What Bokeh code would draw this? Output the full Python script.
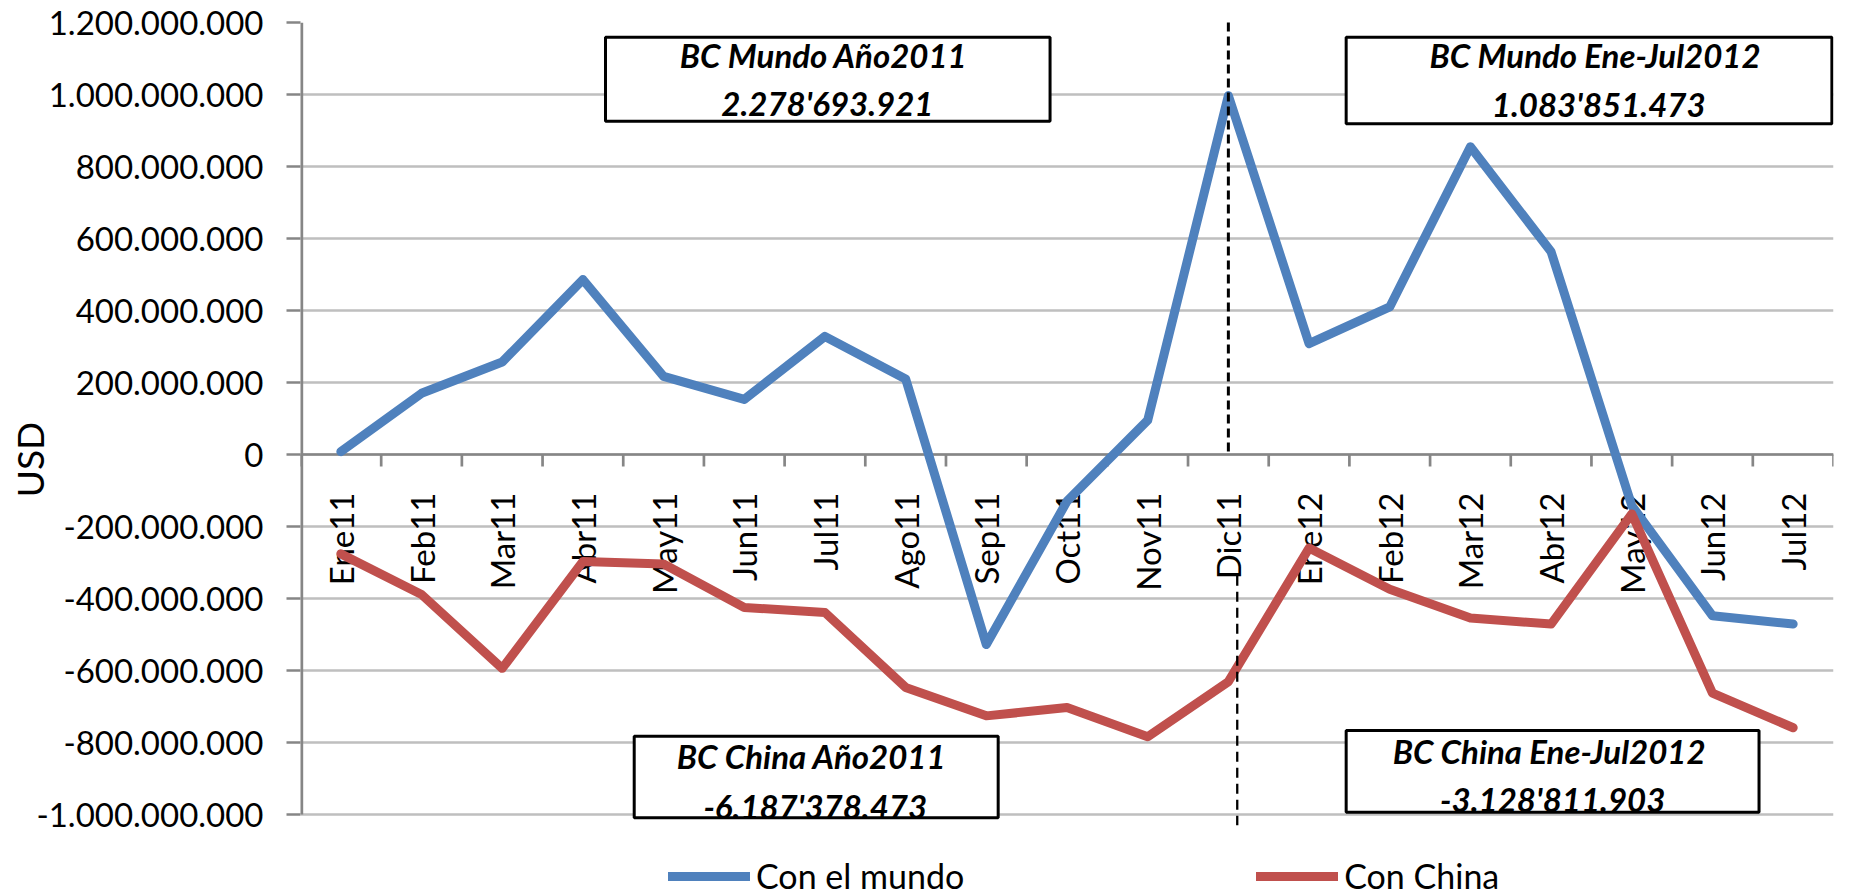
import math
from bokeh.plotting import figure
from bokeh.models import (FactorRange, Range1d, FixedTicker, Legend, LegendItem,
                          Label, BoxAnnotation)
from bokeh.embed import file_html
from bokeh.resources import INLINE

# ---------------- data ----------------
months = ["Ene11", "Feb11", "Mar11", "Abr11", "May11", "Jun11", "Jul11", "Ago11",
          "Sep11", "Oct11", "Nov11", "Dic11", "Ene12", "Feb12", "Mar12", "Abr12",
          "May12", "Jun12", "Jul12"]
con_el_mundo = [8e6, 170e6, 257e6, 486e6, 217e6, 153e6, 328e6, 210e6, -528e6,
                -130e6, 95e6, 997e6, 308e6, 410e6, 855e6, 563e6, -142e6, -448e6,
                -471e6]
con_china = [-276e6, -389e6, -594e6, -297e6, -304e6, -425e6, -439e6, -647e6,
             -726e6, -703e6, -784e6, -631e6, -260e6, -374e6, -454e6, -471e6,
             -165e6, -663e6, -759e6]
series_names = ["Con el mundo", "Con China"]
y_ticks = [1200000000, 1000000000, 800000000, 600000000, 400000000, 200000000, 0,
           -200000000, -400000000, -600000000, -800000000, -1000000000]
y_tick_labels = ["1.200.000.000", "1.000.000.000", "800.000.000", "600.000.000",
                 "400.000.000", "200.000.000", "0", "-200.000.000", "-400.000.000",
                 "-600.000.000", "-800.000.000", "-1.000.000.000"]
y_axis_title = "USD"
box_titles = ["BC Mundo  Año2011", "BC Mundo  Ene-Jul2012",
              "BC China  Año2011", "BC China  Ene-Jul2012"]
box_values = ["2.278'693.921", "1.083'851.473", "-6.187'378.473", "-3.128'811.903"]

# ---------------- styling / layout ----------------
FONT = "Lato"
BLUE = "#4F81BD"
RED = "#C0504D"
AXIS = "#868686"
GRID = "#BFBFBF"

Y_MIN, Y_MAX = y_ticks[-1], y_ticks[0]
PX_PER_UNIT = 792 / (Y_MAX - Y_MIN)        # plotting area of the axis: 792 px tall
EXTRA_BOTTOM = 82 / PX_PER_UNIT            # room below the axis for legend / boxes

p = figure(x_range=FactorRange(factors=months, range_padding=0),
           y_range=Range1d(Y_MIN - EXTRA_BOTTOM, Y_MAX),
           frame_width=1533, frame_height=874,
           min_border_left=300, min_border_right=27,
           min_border_top=22, min_border_bottom=0,
           output_backend="svg", toolbar_location=None,
           background_fill_color="white", border_fill_color="white",
           outline_line_color=None)

# x axis crossing at zero
xa = p.xaxis[0]
xa.fixed_location = 0
xa.major_label_orientation = math.pi / 2
xa.major_tick_line_color = None
xa.major_tick_in = 0
xa.major_tick_out = 0
xa.minor_tick_line_color = None
xa.major_label_standoff = 38
xa.axis_line_color = AXIS
xa.axis_line_width = 2.7
xa.major_label_text_font = FONT
xa.major_label_text_font_size = "33px"
xa.major_label_text_color = "black"

# y axis
ya = p.yaxis[0]
ya.ticker = FixedTicker(ticks=y_ticks)
ya.major_label_overrides = {t: s for t, s in zip(y_ticks, y_tick_labels)}
ya.major_tick_out = 14
ya.major_tick_in = 0
ya.major_tick_line_color = AXIS
ya.major_tick_line_width = 2.7
ya.minor_tick_line_color = None
ya.axis_line_color = None
ya.major_label_standoff = 23
ya.major_label_text_font = FONT
ya.major_label_text_font_size = "33px"
ya.major_label_text_color = "black"
ya.axis_label = y_axis_title
ya.axis_label_text_font = FONT
ya.axis_label_text_font_size = "37px"
ya.axis_label_text_font_style = "normal"
ya.axis_label_text_color = "black"
ya.axis_label_standoff = -19

p.xgrid.visible = False
p.ygrid.ticker = FixedTicker(ticks=y_ticks)
p.ygrid.grid_line_color = GRID
p.ygrid.grid_line_width = 2.5

# vertical axis line only over the value span
p.segment(x0=[0], y0=[Y_MIN], x1=[0], y1=[Y_MAX], line_color=AXIS, line_width=5.4)

# category boundary tick marks on the zero axis
n = len(months)
bounds = list(range(n + 1))
tick_len = 12 / PX_PER_UNIT
p.segment(x0=bounds, y0=[0] * (n + 1), x1=bounds, y1=[-tick_len] * (n + 1),
          line_color=AXIS, line_width=2.7)

# series
r1 = p.line(months, con_el_mundo, line_color=BLUE, line_width=9,
            line_join="round", line_cap="round", level="overlay")
r2 = p.line(months, con_china, line_color=RED, line_width=9,
            line_join="round", line_cap="round", level="overlay")

# separator dashed lines (end of 2011)
p.segment(x0=["Dic11"], y0=[Y_MAX], x1=["Dic11"], y1=[0],
          line_color="black", line_width=3, line_dash="9 5", level="overlay")
sep_x = months.index("Dic11") + 0.61
p.segment(x0=[sep_x], y0=[-337000000], x1=[sep_x], y1=[-1030000000],
          line_color="black", line_width=2.3, line_dash="10 6", level="overlay")

# annotation boxes
boxes = [
    (3.78, 9.29, 1159e6, 926e6),
    (12.96, 18.98, 1159e6, 918.6e6),
    (4.136, 8.647, -782.5e6, -1009e6),
    (12.96, 18.077, -766.7e6, -993.6e6),
]
text_pos = [
    (6.53, 1111e6, 977e6),
    (16.09, 1109e6, 975e6),
    (6.38, -838e6, -975e6),
    (15.52, -823e6, -958e6),
]
for (l, r, t, b), (tx, ty1, ty2), title, val in zip(boxes, text_pos, box_titles, box_values):
    p.add_layout(BoxAnnotation(left=l, right=r, top=t, bottom=b,
                               fill_color="white", fill_alpha=1.0,
                               line_color="black", line_width=3, line_alpha=1.0))
    for yy, txt in ((ty1, title), (ty2, val)):
        p.add_layout(Label(x=tx, y=yy, text=txt, text_align="center",
                           text_baseline="middle", text_font=FONT,
                           text_font_style="bold italic", text_font_size="33px",
                           text_color="black"))

legend = Legend(items=[LegendItem(label=series_names[0], renderers=[r1]),
                       LegendItem(label=series_names[1], renderers=[r2])],
                location=(368, 0), orientation="horizontal",
                glyph_width=82, glyph_height=30, label_standoff=6, spacing=292,
                padding=0, margin=0, border_line_color=None,
                background_fill_alpha=0,
                label_text_font=FONT, label_text_font_size="34px",
                label_text_color="black")
p.add_layout(legend)

open("out.html", "w").write(file_html(p, INLINE))
